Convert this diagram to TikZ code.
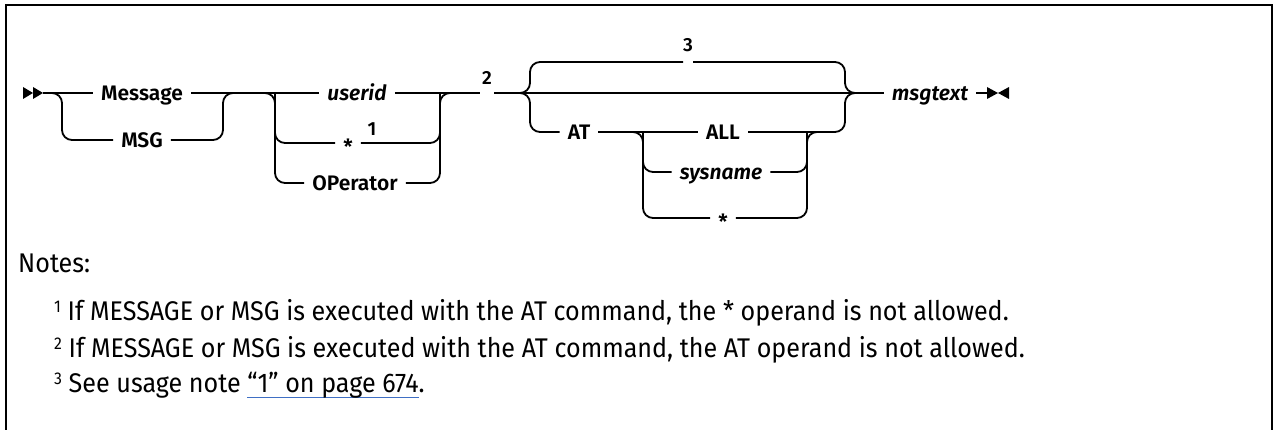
\documentclass[tikz,border=0pt]{standalone}
\usepackage{fontspec}
\setmainfont{Fira Sans}
\newfontfamily\diag{Fira Sans}[UprightFont=* SemiBold, ItalicFont=* SemiBold Italic]
\newfontfamily\notefont{Fira Sans}[FakeStretch=0.93]
\usetikzlibrary{calc}
\definecolor{linkblue}{HTML}{3F6FC4}
\newcommand\nsup[1]{\raisebox{8pt}{\fontsize{17}{17}\selectfont #1}}
\newcommand\lnk[1]{\setbox0\hbox{#1}\rlap{\color{linkblue}\rule[-6pt]{\wd0}{1.2pt}}\box0}
\tikzset{
  rail/.style={line width=1.8pt},
  rc/.style={rail, rounded corners=10pt},
  lbl/.style={font=\diag\fontsize{21}{21}\selectfont, inner xsep=8pt, inner ysep=0pt, text height=14.5pt, text depth=0pt},
  ilbl/.style={lbl, font=\diag\itshape\fontsize{21}{21}\selectfont},
  num/.style={font=\diag\fontsize{19}{19}\selectfont, inner sep=0pt},
  note/.style={font=\notefont\fontsize{27}{27}\selectfont, anchor=base west, inner sep=0pt},
}
\begin{document}
\begin{tikzpicture}[x=1pt,y=-1pt]
\useasboundingbox (0,0) rectangle (1273,430);
\draw[line width=2pt] (6,431) -- (6,5) -- (1272,5) -- (1272,431);

% labels
\node[lbl] (message) at (142,93) {Message};
\node[lbl] (msg) at (142,140) {MSG};
\node[ilbl] (userid) at (357,93) {userid};
\node[lbl] (star1) at (348,143) {\raisebox{-4pt}{*}};
\node[num] (sup1) at (372,129) {1};
\node[lbl] (oper) at (355,183) {OPerator};
\node[num] (n2) at (487,77.5) {2};
\node[num] (n3) at (688,45) {3};
\node[lbl] (at) at (579,132) {AT};
\node[lbl] (all) at (723,132) {ALL};
\node[ilbl] (sys) at (721,172) {sysname};
\node[lbl] (star2) at (723,218) {\raisebox{-4pt}{*}};
\node[ilbl] (mt) at (930,93) {msgtext};

% junctions
\coordinate (start) at (43,93);
\coordinate (f1l) at (62,93);
\coordinate (f1r) at (223,93);
\coordinate (f2l) at (275,93);
\coordinate (f2r) at (440,93);
\coordinate (g2a) at (480,93);
\coordinate (g2b) at (494,93);
\coordinate (bl) at (520,93);
\coordinate (brv) at (845,93);
\coordinate (br) at (855,93);
\coordinate (g3a) at (683,62);
\coordinate (g3b) at (693,62);
\coordinate (sfl) at (643,132);
\coordinate (sfr) at (807,132);
\coordinate (end) at (988,93);

% start / end marks
\fill (23,87) -- (33,93) -- (23,99) -- cycle;
\fill (33,87) -- (43,93) -- (33,99) -- cycle;
\fill (987,87) -- (998,93) -- (987,99) -- cycle;
\fill (1009,87) -- (998,93) -- (1009,99) -- cycle;

% fork 1
\draw[rail] (start) -- (message.west);
\draw[rc] (start) -- (f1l) |- (msg.west);
\draw[rail] (message.east) -- (userid.west);
\draw[rc] (msg.east) -| (f1r) -- ++(10,0);

% fork 2
\draw[rc] (f1r) -- (f2l) |- (oper.west);
\draw[rc] (f2l) |- (star1.west);
\draw[rc] (oper.east) -| (f2r) -- ++(10,0);
\draw[rc] (star1.east) -| (f2r);
\draw[rail] (userid.east) -- (g2a);
\draw[rail] (g2b) -- (mt.west);

% big choice
\draw[rc] (bl) -- ++(10,0) |- (g3a);
\draw[rc] (bl) -- ++(10,0) |- (at.west);
\draw[rc] (g3b) -| (brv) -- (br);
\draw[rc] (all.east) -| (brv) -- (br);
\draw[rail] (at.east) -- (all.west);
\draw[rc] (at.east) -- (sfl) |- (star2.west);
\draw[rc] (sfl) |- (sys.west);
\draw[rc] (star2.east) -| (sfr) -- ++(10,0);
\draw[rc] (sys.east) -| (sfr);
\draw[rail] (mt.east) -- (end);

% notes
\node[note] (notes) at (18,272) {Notes:};
\node[note] (note1) at (54,320) {\nsup{1} If MESSAGE or MSG is executed with the AT command, the * operand is not allowed.};
\node[note] (note2) at (54,357) {\nsup{2} If MESSAGE or MSG is executed with the AT command, the AT operand is not allowed.};
\node[note] (note3) at (54,392) {\nsup{3} See usage note \lnk{“1” on page 674}.};
\end{tikzpicture}
\end{document}
